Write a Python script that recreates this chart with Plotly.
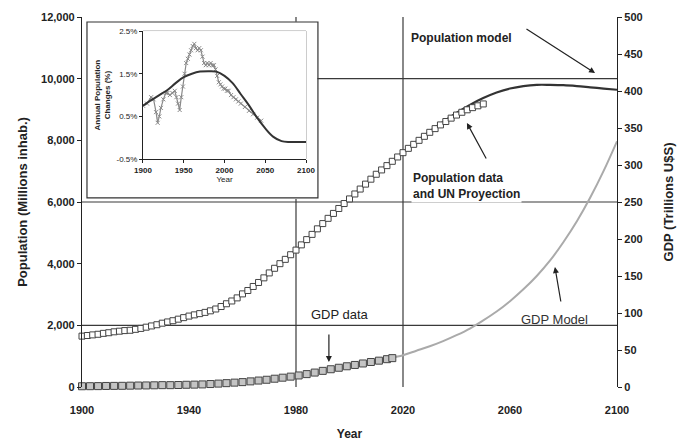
import plotly.graph_objects as go

# ---------------- data ----------------
pop_data_years = list(range(1900, 2051, 2))
pop_data = [1650, 1670, 1690, 1710, 1740, 1760, 1790, 1810, 1830, 1840,
            1870, 1900, 1940, 1980, 2020, 2070, 2110, 2150, 2200, 2250,
            2300, 2340, 2380, 2420, 2470, 2530, 2610, 2700, 2790, 2890,
            3020, 3130, 3260, 3390, 3540, 3700, 3850, 4000, 4140, 4290,
            4440, 4610, 4780, 4950, 5130, 5300, 5470, 5630, 5790, 5950,
            6100, 6260, 6420, 6580, 6740, 6900, 7040, 7180, 7320, 7460,
            7600, 7740, 7870, 8000, 8130, 8260, 8380, 8500, 8610, 8720,
            8820, 8910, 8990, 9060, 9120, 9180]

pop_model_years = list(range(1900, 2101, 5))
pop_model = [1630, 1690, 1750, 1810, 1880, 1970, 2070, 2180, 2300, 2430,
             2560, 2760, 3010, 3310, 3690, 4070, 4440, 4860, 5300, 5710,
             6100, 6500, 6900, 7260, 7610, 7960, 8290, 8600, 8890, 9150,
             9370, 9550, 9680, 9760, 9800, 9800, 9790, 9760, 9720, 9680, 9640]

gdp_data_years = [1900, 1903, 1906, 1909, 1912, 1915, 1918, 1921, 1924, 1927,
                  1930, 1933, 1936, 1939, 1942, 1945, 1948, 1951, 1954, 1957,
                  1960, 1963, 1966, 1969, 1972, 1975, 1978, 1981, 1984, 1987,
                  1990, 1993, 1996, 1999, 2002, 2005, 2008, 2011, 2014, 2016]
gdp_data = [1.0, 1.1, 1.2, 1.4, 1.5, 1.6, 1.8, 2.0, 2.1, 2.3,
            2.5, 2.5, 2.7, 3.0, 3.2, 3.5, 4.0, 4.6, 5.2, 5.9,
            6.6, 7.6, 8.7, 9.8, 11.2, 12.6, 14.0, 15.6, 17.4, 19.5,
            21.8, 24.0, 26.0, 28.0, 29.8, 31.8, 33.8, 35.6, 37.6, 39.0]

gdp_model_years = list(range(2015, 2101, 5))
gdp_model = [39, 43, 49, 55, 62, 70, 79, 90, 102, 116,
             132, 150, 171, 196, 224, 256, 292, 332]

rate_data_years = [1900, 1905, 1910, 1913, 1916, 1918, 1920, 1922, 1925, 1928,
                   1930, 1933, 1936, 1939, 1941, 1943, 1945, 1947, 1949, 1951,
                   1953, 1955, 1957, 1959, 1961, 1963, 1965, 1967, 1969, 1971,
                   1973, 1975, 1977, 1979, 1981, 1983, 1985, 1987, 1989, 1991,
                   1993, 1995, 1997, 1999, 2001, 2003, 2005, 2008, 2011, 2014,
                   2017, 2020, 2025, 2030, 2035, 2040, 2045]
rate_data = [0.75, 0.8, 0.95, 0.9, 0.6, 0.35, 0.5, 0.7, 0.9, 1.05,
             1.05, 1.0, 1.05, 1.1, 0.95, 0.8, 0.65, 0.95, 1.2, 1.5,
             1.75, 1.85, 1.95, 2.05, 2.15, 2.2, 2.1, 2.05, 2.1, 2.05,
             1.9, 1.75, 1.7, 1.75, 1.7, 1.75, 1.7, 1.7, 1.6, 1.45,
             1.3, 1.25, 1.2, 1.15, 1.15, 1.1, 1.1, 1.0, 0.95, 0.9,
             0.85, 0.8, 0.72, 0.63, 0.55, 0.47, 0.4]

rate_model_years = list(range(1900, 2101, 10))
rate_model = [0.75, 0.88, 1.0, 1.12, 1.28, 1.42, 1.5, 1.55, 1.56, 1.55,
              1.45, 1.28, 1.02, 0.76, 0.47, 0.22, 0.02, -0.08, -0.1, -0.1, -0.1]

x_ticks = [1900, 1940, 1980, 2020, 2060, 2100]
inset_x_ticks = [1900, 1950, 2000, 2050, 2100]
inset_y_ticks = [-0.5, 0.5, 1.5, 2.5]

FONT = "Liberation Sans"
TXT = "#222222"

fig = go.Figure()

# main traces
fig.add_trace(go.Scatter(x=pop_model_years, y=pop_model, mode="lines",
                         line=dict(color="#333333", width=2.2, shape="spline"),
                         xaxis="x", yaxis="y"))
fig.add_trace(go.Scatter(x=pop_data_years, y=pop_data, mode="markers",
                         marker=dict(symbol="square", size=6, color="white",
                                     line=dict(color="#444444", width=1)),
                         cliponaxis=False, xaxis="x", yaxis="y"))
fig.add_trace(go.Scatter(x=gdp_model_years, y=gdp_model, mode="lines",
                         line=dict(color="#aaaaaa", width=2, shape="spline"),
                         xaxis="x", yaxis="y2"))
fig.add_trace(go.Scatter(x=gdp_data_years, y=gdp_data, mode="markers",
                         marker=dict(symbol="square", size=7, color="#c4c4c4",
                                     line=dict(color="#444444", width=1)),
                         cliponaxis=False, xaxis="x", yaxis="y2"))

# inset traces
fig.add_trace(go.Scatter(x=rate_data_years, y=rate_data, mode="lines+markers",
                         line=dict(color="#8a8a8a", width=1.2),
                         marker=dict(symbol="x-thin", size=4,
                                     line=dict(color="#8a8a8a", width=1)),
                         xaxis="x3", yaxis="y3"))
fig.add_trace(go.Scatter(x=rate_model_years, y=rate_model, mode="lines",
                         line=dict(color="#333333", width=2, shape="spline"),
                         xaxis="x3", yaxis="y3"))

shapes = []
gl = dict(color="#3a3a3a", width=1.2)
# main gridlines (segments kept outside the inset box)
shapes.append(dict(type="line", xref="x", yref="y", x0=1900, x1=2100, y0=2000, y1=2000, line=gl, layer="below"))
shapes.append(dict(type="line", xref="x", yref="y", x0=1900, x1=2100, y0=6000, y1=6000, line=gl, layer="below"))
shapes.append(dict(type="line", xref="x", yref="y", x0=1988, x1=2100, y0=10000, y1=10000, line=gl, layer="below"))
shapes.append(dict(type="line", xref="x", yref="y", x0=1980, x1=1980, y0=0, y1=6100, line=gl, layer="below"))
shapes.append(dict(type="line", xref="x", yref="y", x0=1980, x1=1980, y0=11850, y1=12000, line=gl, layer="below"))
shapes.append(dict(type="line", xref="x", yref="y", x0=2020, x1=2020, y0=0, y1=12000, line=gl, layer="below"))
# inset outer box
shapes.append(dict(type="rect", xref="paper", yref="paper", x0=0.0093, x1=0.441, y0=0.511, y1=0.9865,
                   line=dict(color="#333333", width=1.2), fillcolor="white", layer="below"))
# inset inner frame
shapes.append(dict(type="rect", xref="x3 domain", yref="y3 domain", x0=0, x1=1, y0=0, y1=1,
                   line=dict(color="#999999", width=1), layer="below"))
# inset gridlines
for v in [0.5, 1.5]:
    shapes.append(dict(type="line", xref="x3 domain", yref="y3", x0=0, x1=1, y0=v, y1=v,
                       line=dict(color="#222222", width=1.2), layer="below"))

ann_font = dict(family=FONT, size=12, color=TXT)
annotations = [
    dict(x=2042, y=11318, xref="x", yref="y", text="<b>Population model</b>", showarrow=False, font=ann_font),
    dict(x=2023, y=6518, xref="x", yref="y", xanchor="left", align="left",
         text="<b>Population data<br>and UN Proyection</b>", showarrow=False, font=ann_font,
         bgcolor="white"),
    dict(x=1996.4, y=2367, xref="x", yref="y", text="GDP data", showarrow=False,
         font=dict(family=FONT, size=13, color=TXT)),
    dict(x=2076.8, y=2190, xref="x", yref="y", text="GDP Model", showarrow=False,
         font=dict(family=FONT, size=13, color="#333333")),
    # arrows
    dict(x=2091.8, y=10183, ax=2065.6, ay=11643, xref="x", yref="y", axref="x", ayref="y",
         text="", showarrow=True, arrowhead=2, arrowsize=1, arrowwidth=1.2, arrowcolor="#222"),
    dict(x=2043.9, y=8562, ax=2051.4, ay=7362, xref="x", yref="y", axref="x", ayref="y",
         text="", showarrow=True, arrowhead=2, arrowsize=1, arrowwidth=1.2, arrowcolor="#222"),
    dict(x=1992.3, y=811, ax=1992.3, ay=1751, xref="x", yref="y", axref="x", ayref="y",
         text="", showarrow=True, arrowhead=2, arrowsize=1, arrowwidth=1.2, arrowcolor="#222"),
    dict(x=2076.8, y=3892, ax=2079.1, ay=2724, xref="x", yref="y", axref="x", ayref="y",
         text="", showarrow=True, arrowhead=2, arrowsize=1, arrowwidth=1.2, arrowcolor="#222"),
]

tickf = dict(family=FONT, size=11, color=TXT)
fig.update_layout(
    width=682, height=442, autosize=False,
    margin=dict(l=82, r=65, t=17, b=55),
    paper_bgcolor="white", plot_bgcolor="white",
    showlegend=False,
    shapes=shapes, annotations=annotations,
    xaxis=dict(range=[1900, 2100], tickvals=x_ticks, ticktext=[f"<b>{v}</b>" for v in x_ticks],
               showgrid=False, zeroline=False, showline=False, ticks="", ticklabelstandoff=15,
               tickfont=tickf, automargin=False,
               title=dict(text="<b>Year</b>", font=dict(family=FONT, size=12, color=TXT), standoff=14)),
    yaxis=dict(range=[0, 12000], tickvals=list(range(0, 12001, 2000)),
               ticktext=[f"<b>{v:,}</b>" for v in range(0, 12001, 2000)],
               showgrid=False, zeroline=False, showline=True, linecolor="#222", linewidth=1.2,
               ticks="outside", ticklen=4, tickcolor="#222", tickfont=tickf, automargin=False,
               title=dict(text="<b>Population (Millions inhab.)</b>",
                          font=dict(family=FONT, size=13, color=TXT), standoff=10)),
    yaxis2=dict(range=[0, 500], overlaying="y", side="right", anchor="x",
                tickvals=list(range(0, 501, 50)), ticktext=[f"<b>{v}</b>" for v in range(0, 501, 50)],
                showgrid=False, zeroline=False, showline=True, linecolor="#222", linewidth=1.2,
                ticks="outside", ticklen=4, tickcolor="#222", tickfont=tickf, automargin=False,
                title=dict(text="<b>GDP (Trillions U$S)</b>",
                           font=dict(family=FONT, size=13, color=TXT), standoff=22)),
    xaxis3=dict(domain=[0.114, 0.4187], anchor="y3", range=[1900, 2100], tickvals=inset_x_ticks,
                ticktext=[f"<b>{v}</b>" for v in inset_x_ticks],
                showgrid=False, zeroline=False, showline=True, linecolor="#222", linewidth=1,
                ticks="outside", ticklen=3, tickcolor="#222", automargin=False,
                tickfont=dict(family=FONT, size=8, color=TXT),
                title=dict(text="Year", font=dict(family=FONT, size=8, color=TXT), standoff=2)),
    yaxis3=dict(domain=[0.616, 0.962], anchor="x3", range=[-0.5, 2.5], tickvals=inset_y_ticks,
                ticktext=[f"{v:.1f}%" for v in inset_y_ticks],
                showgrid=False, zeroline=False, showline=True, linecolor="#222", linewidth=1,
                ticks="outside", ticklen=3, tickcolor="#222", automargin=False,
                tickfont=dict(family=FONT, size=8, color=TXT),
                title=dict(text="<b>Annual Population<br>Changes (%)</b>",
                           font=dict(family=FONT, size=8, color=TXT), standoff=4)),
)

fig.write_html("out.html",
               config={"displayModeBar": False, "responsive": False},
               post_script="document.body.style.margin='0';document.body.style.overflow='hidden';")
